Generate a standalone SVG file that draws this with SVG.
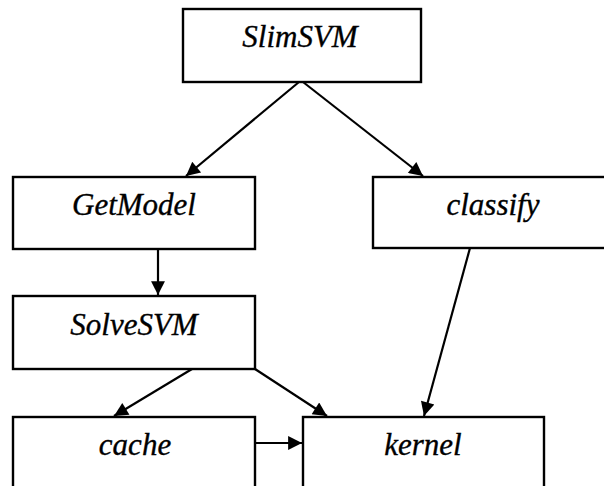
<svg xmlns="http://www.w3.org/2000/svg" width="604" height="486" viewBox="0 0 604 486">
<style>
.box{fill:#fff;stroke:#000;stroke-width:2.4}
.lbl{font-family:'Liberation Serif','Times New Roman',serif;font-style:italic;font-size:31px;fill:#000;stroke:#000;stroke-width:0.35;text-anchor:middle}
.edge{stroke:#000;stroke-width:2.2;fill:none;marker-end:url(#ah)}
</style>
<defs>
<marker id="ah" viewBox="0 0 10 10" refX="10" refY="5" markerWidth="7.5" markerHeight="6.3" markerUnits="strokeWidth" orient="auto">
<path d="M0,0 L10,5 L0,10 z" fill="#000"/>
</marker>
</defs>
<rect width="604" height="486" fill="#fff"/>
<g id="connectors">
<line class="edge" x1="299" y1="82" x2="186" y2="176"/>
<line class="edge" x1="303" y1="82" x2="423" y2="176"/>
<line class="edge" x1="158" y1="249" x2="158" y2="295"/>
<line class="edge" x1="192" y1="369" x2="114" y2="416"/>
<line class="edge" x1="255" y1="369" x2="327" y2="416"/>
<line class="edge" x1="470" y1="248" x2="424" y2="416"/>
<line class="edge" x1="255" y1="443" x2="302" y2="443"/>
</g>
<g id="SlimSVM"><rect class="box" x="183" y="9" width="238" height="73"/><text class="lbl" x="300" y="47">SlimSVM</text></g>
<g id="GetModel"><rect class="box" x="13" y="177" width="242" height="72"/><text class="lbl" x="134" y="215">GetModel</text></g>
<g id="classify"><rect class="box" x="373" y="177" width="240" height="71"/><text class="lbl" x="493" y="215">classify</text></g>
<g id="SolveSVM"><rect class="box" x="13" y="296" width="242" height="73"/><text class="lbl" x="134" y="335">SolveSVM</text></g>
<g id="cache"><rect class="box" x="13" y="417" width="242" height="80"/><text class="lbl" x="135" y="455">cache</text></g>
<g id="kernel"><rect class="box" x="303" y="417" width="241" height="80"/><text class="lbl" x="423" y="455">kernel</text></g>
</svg>
